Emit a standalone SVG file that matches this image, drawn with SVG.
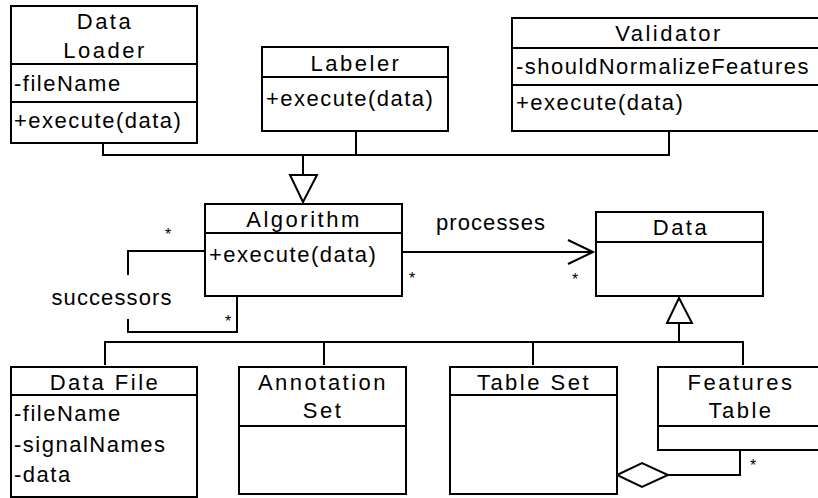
<svg xmlns="http://www.w3.org/2000/svg" width="818" height="498" viewBox="0 0 818 498">
  <style>
    .box { fill: #ffffff; stroke: #000000; stroke-width: 2; }
    .sep { stroke: #000000; stroke-width: 2; }
    .line { fill: none; stroke: #000000; stroke-width: 2; }
    .head { fill: #ffffff; stroke: #000000; stroke-width: 2; }
    text { font-family: "Liberation Sans", Arial, sans-serif; font-size: 22px; fill: #000000; }
    .title { text-anchor: middle; letter-spacing: 2.5px; }
    .member { letter-spacing: 1.5px; }
    .label { letter-spacing: 1.1px; }
    .mult { font-size: 16px; text-anchor: middle; }
  </style>

  <rect width="818" height="498" fill="#ffffff"/>

  <!-- connectors -->
  <g id="connectors">
    <!-- generalization into Algorithm -->
    <polyline class="line" points="103,143 103,155 669,155 669,131"/>
    <line class="line" x1="356" y1="131" x2="356" y2="155"/>
    <line class="line" x1="303" y1="155" x2="303" y2="175"/>
    <polygon class="head" points="290,175 317,175 303,202"/>

    <!-- successors self association -->
    <polyline class="line" points="205,251 128,251 128,275"/>
    <polyline class="line" points="128,319 128,332 237,332 237,296"/>
    <text class="label" x="112" y="305" text-anchor="middle">successors</text>
    <text class="mult" x="168" y="240">*</text>
    <text class="mult" x="228" y="327">*</text>

    <!-- processes association -->
    <line class="line" x1="402" y1="252" x2="593" y2="252"/>
    <polyline class="line" points="568,240 593,252 568,264"/>
    <text class="label" x="491" y="230" text-anchor="middle">processes</text>
    <text class="mult" x="412" y="284">*</text>
    <text class="mult" x="575" y="285">*</text>

    <!-- generalization into Data -->
    <line class="line" x1="679" y1="323" x2="679" y2="342"/>
    <polygon class="head" points="667,323 692,323 679,298"/>
    <polyline class="line" points="105,365 105,342 743,342 743,365"/>
    <line class="line" x1="324" y1="342" x2="324" y2="365"/>
    <line class="line" x1="533" y1="342" x2="533" y2="365"/>

    <!-- aggregation Table Set - Features Table -->
    <polyline class="line" points="668,475 740,475 740,450"/>
    <polygon class="head" points="617,475 642,463 668,475 642,487"/>
    <text class="mult" x="753" y="471">*</text>
  </g>

  <g id="data-loader">
    <rect class="box" x="11" y="6" width="186" height="137"/>
    <line class="sep" x1="11" y1="64" x2="197" y2="64"/>
    <line class="sep" x1="11" y1="102" x2="197" y2="102"/>
    <text class="title" x="105" y="29">Data</text>
    <text class="title" x="105" y="58">Loader</text>
    <text class="member" x="14" y="91">-fileName</text>
    <text class="member" x="14" y="128">+execute(data)</text>
  </g>

  <g id="labeler">
    <rect class="box" x="262" y="47" width="186" height="84"/>
    <line class="sep" x1="262" y1="77" x2="448" y2="77"/>
    <text class="title" x="356" y="71">Labeler</text>
    <text class="member" x="266" y="106">+execute(data)</text>
  </g>

  <g id="validator">
    <rect class="box" x="512" y="18" width="312" height="113"/>
    <line class="sep" x1="512" y1="48" x2="824" y2="48"/>
    <line class="sep" x1="512" y1="85" x2="824" y2="85"/>
    <text class="title" x="669" y="41">Validator</text>
    <text class="member" x="516" y="74">-shouldNormalizeFeatures</text>
    <text class="member" x="516" y="110">+execute(data)</text>
  </g>

  <g id="algorithm">
    <rect class="box" x="205" y="204" width="197" height="92"/>
    <line class="sep" x1="205" y1="233" x2="402" y2="233"/>
    <text class="title" x="304" y="227">Algorithm</text>
    <text class="member" x="209" y="262">+execute(data)</text>
  </g>

  <g id="data">
    <rect class="box" x="596" y="212" width="167" height="84"/>
    <line class="sep" x1="596" y1="242" x2="763" y2="242"/>
    <text class="title" x="681" y="235">Data</text>
  </g>

  <g id="data-file">
    <rect class="box" x="11" y="367" width="186" height="130"/>
    <line class="sep" x1="11" y1="395" x2="197" y2="395"/>
    <text class="title" x="105" y="390">Data File</text>
    <text class="member" x="14" y="421">-fileName</text>
    <text class="member" x="14" y="452">-signalNames</text>
    <text class="member" x="14" y="482">-data</text>
  </g>

  <g id="annotation-set">
    <rect class="box" x="239" y="367" width="167" height="127"/>
    <line class="sep" x1="239" y1="426" x2="406" y2="426"/>
    <text class="title" x="323" y="390">Annotation</text>
    <text class="title" x="323" y="418">Set</text>
  </g>

  <g id="table-set">
    <rect class="box" x="450" y="367" width="167" height="127"/>
    <line class="sep" x1="450" y1="395" x2="617" y2="395"/>
    <text class="title" x="534" y="390">Table Set</text>
  </g>

  <g id="features-table">
    <rect class="box" x="658" y="367" width="164" height="83"/>
    <line class="sep" x1="658" y1="426" x2="822" y2="426"/>
    <text class="title" x="741" y="390">Features</text>
    <text class="title" x="741" y="418">Table</text>
  </g>
</svg>
